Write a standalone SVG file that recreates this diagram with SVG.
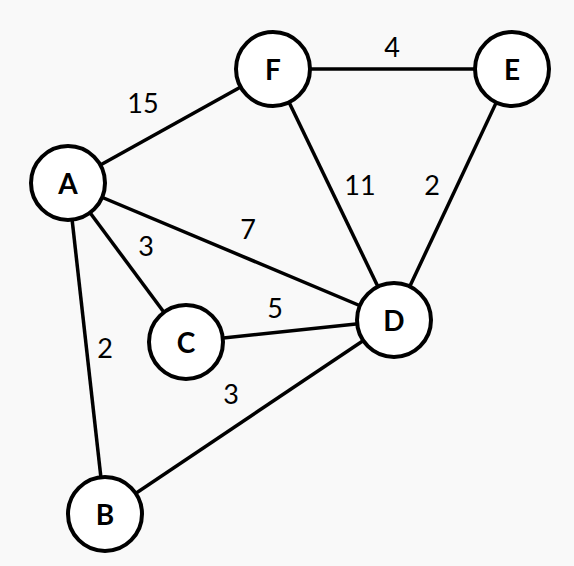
<svg xmlns="http://www.w3.org/2000/svg" width="574" height="566" viewBox="0 0 574 566">
<style>
.n{fill:#fff;stroke:#000;stroke-width:4}
.nl{font-family:Lato,"Liberation Sans",sans-serif;font-weight:bold;font-size:28px;text-anchor:middle;dominant-baseline:central;fill:#000}
.e{stroke:#000;stroke-width:3.5;fill:none}
.el{font-family:Lato,"Liberation Sans",sans-serif;font-size:27px;text-anchor:middle;dominant-baseline:central;fill:#000}
</style>
<rect width="574" height="566" fill="#f9f9f9"/>
<g id="connectors">
<line class="e" x1="68" y1="183" x2="273" y2="69"/>
<line class="e" x1="273" y1="69" x2="512" y2="69"/>
<line class="e" x1="273" y1="69" x2="394" y2="320"/>
<line class="e" x1="512" y1="69" x2="394" y2="320"/>
<line class="e" x1="68" y1="183" x2="394" y2="320"/>
<line class="e" x1="68" y1="183" x2="186" y2="342"/>
<line class="e" x1="68" y1="183" x2="105" y2="514"/>
<line class="e" x1="186" y1="342" x2="394" y2="320"/>
<line class="e" x1="105" y1="514" x2="394" y2="320"/>
<text class="el" x="143" y="102">15</text>
<text class="el" x="392" y="46">4</text>
<text class="el" x="360" y="184">11</text>
<text class="el" x="432" y="184">2</text>
<text class="el" x="248" y="228">7</text>
<text class="el" x="146" y="245">3</text>
<text class="el" x="275" y="307">5</text>
<text class="el" x="105" y="347">2</text>
<text class="el" x="231" y="393">3</text>
</g>
<g id="F"><circle class="n" cx="273" cy="69" r="37"/><text class="nl" x="273" y="69">F</text></g>
<g id="E"><circle class="n" cx="512" cy="69" r="37"/><text class="nl" x="512" y="69">E</text></g>
<g id="A"><circle class="n" cx="68" cy="183" r="37"/><text class="nl" x="68" y="183">A</text></g>
<g id="D"><circle class="n" cx="394" cy="320" r="37"/><text class="nl" x="394" y="320">D</text></g>
<g id="C"><circle class="n" cx="186" cy="342" r="37"/><text class="nl" x="186" y="342">C</text></g>
<g id="B"><circle class="n" cx="105" cy="514" r="37"/><text class="nl" x="105" y="514">B</text></g>
</svg>
